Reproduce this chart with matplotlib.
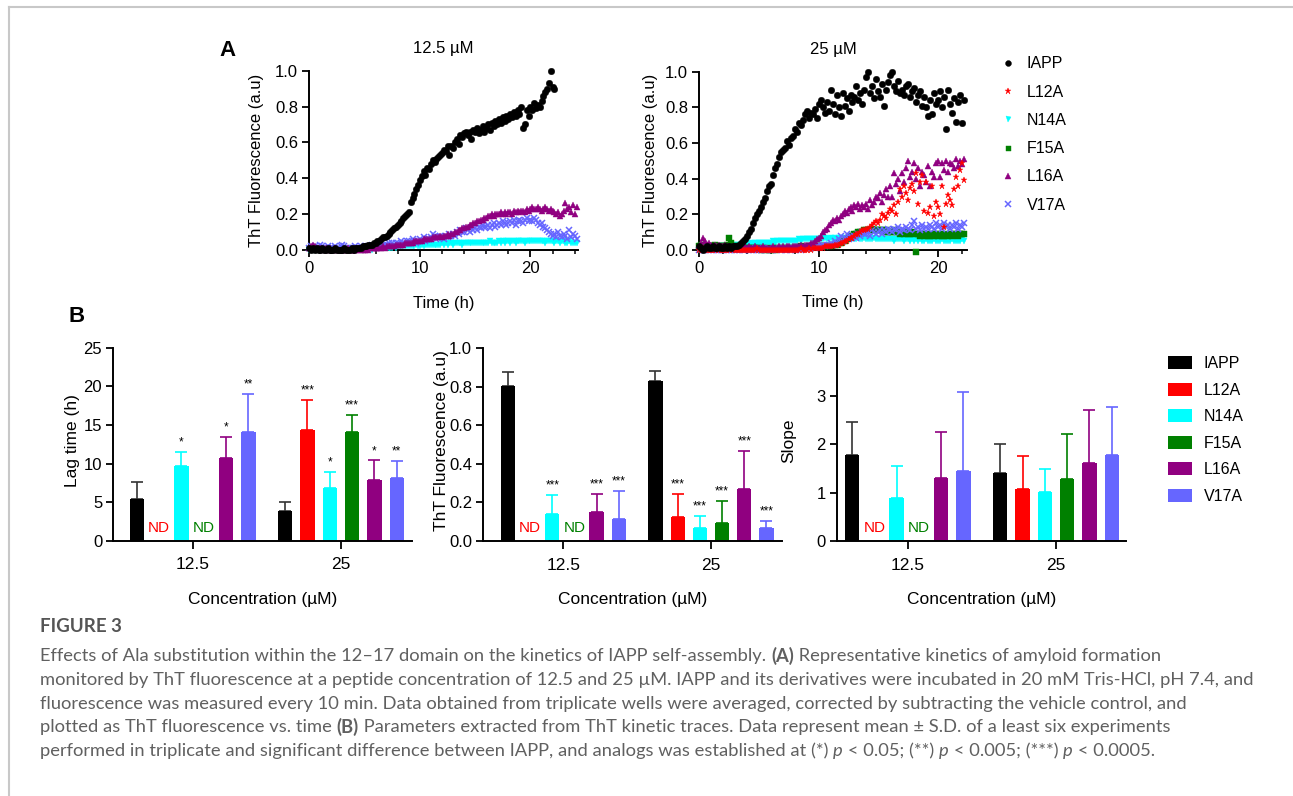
import numpy as np
import matplotlib
matplotlib.use("Agg")
import matplotlib.pyplot as plt
from matplotlib.lines import Line2D
from matplotlib.patches import Patch
import matplotlib.transforms as mtransforms

plt.rcParams["font.family"] = ["Liberation Sans", "DejaVu Sans"]

W, H = 1293, 796

# ---------------- data: kinetics (one reading every 10 min) ----------------
SAMPLE_MIN = 10
variants = ["IAPP", "L12A", "N14A", "F15A", "L16A", "V17A"]
colors = ["#000000", "#FF0000", "#00FFFF", "#008000", "#900080", "#6666FF"]
markers = ["o", "*", "v", "s", "^", "x"]
msizes = [4.7, 5.0, 4.0, 4.0, 4.2, 4.4]

iapp_125 = [
    0.01, 0.00, 0.01, 0.00, 0.01, 0.00, 0.00, 0.01, 0.00, 0.00, 0.01, 0.00,
    0.00, 0.00, 0.01, 0.00, 0.00, 0.00, 0.00, 0.01, 0.00, 0.00, 0.00, 0.01,
    0.00, 0.01, 0.01, 0.01, 0.01, 0.02, 0.02, 0.02, 0.03, 0.03, 0.03, 0.04,
    0.04, 0.05, 0.05, 0.06, 0.07, 0.07, 0.08, 0.09, 0.10, 0.11, 0.12, 0.13,
    0.14, 0.15, 0.16, 0.18, 0.19, 0.20, 0.21, 0.27, 0.29, 0.31, 0.34, 0.36,
    0.39, 0.41, 0.44, 0.42, 0.46, 0.45, 0.48, 0.50, 0.49, 0.51, 0.52, 0.53,
    0.54, 0.56, 0.55, 0.58, 0.53, 0.58, 0.57, 0.60, 0.62, 0.59, 0.64, 0.63,
    0.65, 0.66, 0.64, 0.66, 0.62, 0.67, 0.66, 0.68, 0.65, 0.67, 0.69, 0.66,
    0.68, 0.70, 0.67, 0.71, 0.69, 0.72, 0.70, 0.73, 0.71, 0.74, 0.72, 0.75,
    0.73, 0.76, 0.74, 0.77, 0.75, 0.78, 0.76, 0.80, 0.68, 0.70, 0.78, 0.75,
    0.80, 0.78, 0.82, 0.79, 0.81, 0.80, 0.83, 0.86, 0.88, 0.90, 0.93, 1.00,
    0.91, 0.90]
n14a_125 = [
    0.00, 0.00, 0.00, 0.00, 0.00, 0.00, 0.00, 0.00, 0.00, 0.00, 0.00, 0.00,
    0.00, 0.00, 0.00, 0.00, 0.00, 0.00, 0.00, 0.00, 0.00, 0.00, 0.00, 0.00,
    0.00, 0.00, 0.00, 0.00, 0.00, 0.00, 0.00, 0.00, 0.00, 0.01, 0.00, 0.01,
    0.01, 0.01, 0.01, 0.01, 0.01, 0.01, 0.01, 0.01, 0.01, 0.01, 0.02, 0.01,
    0.02, 0.02, 0.02, 0.02, 0.02, 0.02, 0.02, 0.02, 0.02, 0.02, 0.03, 0.02,
    0.02, 0.03, 0.02, 0.03, 0.03, 0.03, 0.03, 0.03, 0.03, 0.03, 0.03, 0.03,
    0.04, 0.03, 0.04, 0.03, 0.04, 0.04, 0.03, 0.04, 0.04, 0.04, 0.04, 0.03,
    0.04, 0.04, 0.04, 0.04, 0.04, 0.04, 0.04, 0.04, 0.04, 0.04, 0.04, 0.04,
    0.04, 0.04, 0.05, 0.04, 0.04, 0.04, 0.04, 0.05, 0.04, 0.05, 0.04, 0.05,
    0.05, 0.04, 0.05, 0.05, 0.04, 0.05, 0.05, 0.05, 0.05, 0.04, 0.05, 0.05,
    0.05, 0.05, 0.05, 0.05, 0.05, 0.05, 0.05, 0.05, 0.04, 0.05, 0.05, 0.05,
    0.05, 0.04, 0.05, 0.05, 0.04, 0.05, 0.05, 0.04, 0.04, 0.05, 0.04, 0.04,
    0.04, 0.04]
l16a_125 = [
    0.01, 0.02, 0.03, 0.02, 0.01, 0.01, 0.01, 0.01, 0.00, 0.01, 0.00, 0.01,
    0.00, 0.00, 0.01, 0.00, 0.00, 0.00, 0.00, 0.00, 0.00, 0.01, 0.00, 0.00,
    0.00, 0.00, 0.00, 0.01, 0.00, 0.00, 0.00, 0.01, 0.00, 0.01, 0.01, 0.01,
    0.01, 0.01, 0.01, 0.01, 0.02, 0.01, 0.02, 0.02, 0.02, 0.02, 0.02, 0.03,
    0.03, 0.03, 0.03, 0.03, 0.04, 0.04, 0.04, 0.04, 0.04, 0.05, 0.05, 0.05,
    0.05, 0.05, 0.06, 0.06, 0.06, 0.06, 0.06, 0.07, 0.07, 0.07, 0.07, 0.08,
    0.07, 0.08, 0.08, 0.09, 0.08, 0.09, 0.09, 0.10, 0.10, 0.11, 0.11, 0.12,
    0.12, 0.13, 0.13, 0.14, 0.14, 0.15, 0.15, 0.16, 0.16, 0.17, 0.17, 0.18,
    0.18, 0.19, 0.19, 0.20, 0.19, 0.20, 0.20, 0.20, 0.21, 0.20, 0.21, 0.20,
    0.21, 0.21, 0.20, 0.22, 0.21, 0.22, 0.21, 0.22, 0.22, 0.21, 0.23, 0.22,
    0.23, 0.24, 0.23, 0.23, 0.24, 0.23, 0.22, 0.23, 0.24, 0.23, 0.22, 0.23,
    0.22, 0.21, 0.20, 0.21, 0.19, 0.20, 0.22, 0.26, 0.23, 0.24, 0.21, 0.25,
    0.20, 0.24]
v17a_125 = [
    0.01, 0.02, 0.01, 0.02, 0.01, 0.01, 0.03, 0.02, 0.01, 0.01, 0.02, 0.01,
    0.01, 0.01, 0.02, 0.01, 0.01, 0.02, 0.03, 0.02, 0.01, 0.01, 0.01, 0.01,
    0.01, 0.02, 0.01, 0.01, 0.02, 0.01, 0.02, 0.01, 0.02, 0.02, 0.03, 0.02,
    0.03, 0.02, 0.03, 0.02, 0.03, 0.03, 0.03, 0.04, 0.03, 0.04, 0.03, 0.04,
    0.04, 0.03, 0.05, 0.04, 0.04, 0.05, 0.05, 0.04, 0.06, 0.05, 0.04, 0.05,
    0.06, 0.05, 0.07, 0.05, 0.06, 0.06, 0.07, 0.09, 0.08, 0.06, 0.07, 0.08,
    0.07, 0.06, 0.08, 0.07, 0.09, 0.08, 0.09, 0.08, 0.10, 0.09, 0.11, 0.10,
    0.10, 0.12, 0.11, 0.10, 0.12, 0.11, 0.12, 0.11, 0.13, 0.12, 0.14, 0.13,
    0.13, 0.14, 0.12, 0.14, 0.15, 0.13, 0.14, 0.15, 0.14, 0.16, 0.15, 0.14,
    0.15, 0.16, 0.15, 0.17, 0.14, 0.16, 0.17, 0.16, 0.15, 0.17, 0.18, 0.16,
    0.17, 0.16, 0.18, 0.17, 0.15, 0.14, 0.15, 0.13, 0.12, 0.11, 0.10, 0.09,
    0.08, 0.09, 0.07, 0.10, 0.08, 0.07, 0.09, 0.08, 0.06, 0.11, 0.07, 0.09,
    0.08, 0.06]

iapp_25 = [
    0.02, 0.01, 0.00, 0.01, 0.02, 0.01, 0.01, 0.02, 0.01, 0.01, 0.02, 0.01,
    0.01, 0.02, 0.01, 0.02, 0.01, 0.02, 0.02, 0.02, 0.03, 0.04, 0.05, 0.06,
    0.08, 0.10, 0.12, 0.15, 0.18, 0.20, 0.22, 0.24, 0.27, 0.29, 0.33, 0.36,
    0.37, 0.42, 0.46, 0.48, 0.52, 0.55, 0.56, 0.57, 0.61, 0.59, 0.63, 0.64,
    0.68, 0.66, 0.71, 0.70, 0.73, 0.76, 0.78, 0.74, 0.77, 0.76, 0.79, 0.74,
    0.82, 0.84, 0.80, 0.77, 0.83, 0.78, 0.90, 0.82, 0.76, 0.87, 0.80, 0.75,
    0.88, 0.81, 0.85, 0.78, 0.87, 0.83, 0.86, 0.92, 0.84, 0.88, 0.82, 0.90,
    0.97, 1.00, 0.88, 0.92, 0.85, 0.96, 0.89, 0.86, 0.93, 0.81, 0.90, 0.94,
    0.98, 1.00, 0.92, 0.89, 0.95, 0.88, 0.90, 0.87, 0.92, 0.93, 0.86, 0.89,
    0.91, 0.83, 0.87, 0.89, 0.81, 0.86, 0.80, 0.75, 0.84, 0.76, 0.88, 0.82,
    0.84, 0.89, 0.80, 0.86, 0.68, 0.90, 0.82, 0.77, 0.85, 0.72, 0.83, 0.87,
    0.71, 0.84]
l12a_25 = [
    0.00, 0.00, 0.01, 0.00, 0.00, 0.00, 0.00, 0.00, 0.00, 0.01, 0.00, 0.00,
    0.00, 0.00, 0.00, 0.00, 0.01, 0.00, 0.00, 0.00, 0.00, 0.00, 0.00, 0.00,
    0.00, 0.00, 0.00, 0.00, 0.00, 0.01, 0.00, 0.00, 0.00, 0.00, 0.00, 0.00,
    0.00, 0.00, 0.00, 0.00, 0.00, 0.00, 0.00, 0.00, 0.00, 0.00, 0.00, 0.00,
    0.00, 0.00, 0.00, 0.01, 0.00, 0.00, 0.00, 0.01, 0.00, 0.01, 0.01, 0.01,
    0.01, 0.01, 0.01, 0.02, 0.02, 0.02, 0.02, 0.02, 0.03, 0.03, 0.03, 0.04,
    0.04, 0.05, 0.05, 0.06, 0.07, 0.07, 0.08, 0.09, 0.09, 0.10, 0.11, 0.11,
    0.12, 0.12, 0.13, 0.14, 0.15, 0.16, 0.15, 0.17, 0.20, 0.19, 0.18, 0.21,
    0.23, 0.22, 0.25, 0.20, 0.27, 0.34, 0.30, 0.36, 0.32, 0.28, 0.35, 0.37,
    0.33, 0.43, 0.26, 0.38, 0.42, 0.22, 0.38, 0.21, 0.24, 0.36, 0.19, 0.27,
    0.24, 0.20, 0.36, 0.13, 0.26, 0.31, 0.28, 0.25, 0.34, 0.41, 0.36, 0.45,
    0.49, 0.39]
n14a_25 = [
    0.00, 0.01, 0.00, 0.01, 0.01, 0.01, 0.01, 0.01, 0.01, 0.01, 0.02, 0.01,
    0.02, 0.02, 0.02, 0.02, 0.02, 0.03, 0.02, 0.03, 0.03, 0.03, 0.03, 0.03,
    0.03, 0.03, 0.04, 0.03, 0.04, 0.04, 0.04, 0.04, 0.04, 0.04, 0.04, 0.04,
    0.04, 0.05, 0.04, 0.05, 0.05, 0.05, 0.05, 0.05, 0.05, 0.05, 0.05, 0.05,
    0.05, 0.05, 0.06, 0.05, 0.06, 0.06, 0.06, 0.06, 0.06, 0.06, 0.06, 0.06,
    0.06, 0.06, 0.06, 0.07, 0.06, 0.06, 0.07, 0.06, 0.07, 0.06, 0.07, 0.07,
    0.06, 0.07, 0.06, 0.07, 0.06, 0.07, 0.06, 0.06, 0.07, 0.06, 0.06, 0.07,
    0.06, 0.06, 0.06, 0.06, 0.07, 0.06, 0.06, 0.06, 0.06, 0.06, 0.06, 0.06,
    0.06, 0.06, 0.05, 0.06, 0.06, 0.06, 0.06, 0.05, 0.06, 0.06, 0.05, 0.06,
    0.05, 0.06, 0.05, 0.06, 0.05, 0.05, 0.06, 0.05, 0.05, 0.05, 0.06, 0.05,
    0.05, 0.05, 0.06, 0.05, 0.05, 0.05, 0.05, 0.06, 0.05, 0.05, 0.05, 0.05,
    0.06, 0.05]
f15a_25 = [
    0.02, 0.03, 0.02, 0.03, 0.02, 0.02, 0.02, 0.02, 0.03, 0.02, 0.02, 0.02,
    0.02, 0.02, 0.03, 0.07, 0.04, 0.02, 0.02, 0.01, 0.02, 0.01, 0.01, 0.01,
    0.01, 0.01, 0.01, 0.01, 0.01, 0.01, 0.01, 0.00, 0.01, 0.00, 0.01, 0.00,
    0.00, 0.01, 0.00, 0.01, 0.01, 0.01, 0.01, 0.01, 0.01, 0.01, 0.01, 0.01,
    0.01, 0.01, 0.01, 0.02, 0.01, 0.01, 0.01, 0.02, 0.01, 0.02, 0.02, 0.02,
    0.02, 0.02, 0.02, 0.02, 0.02, 0.02, 0.02, 0.03, 0.03, 0.03, 0.04, 0.04,
    0.05, 0.05, 0.06, 0.07, 0.08, 0.08, 0.09, 0.09, 0.10, 0.10, 0.10, 0.11,
    0.11, 0.11, 0.11, 0.12, 0.11, 0.11, 0.11, 0.11, 0.11, 0.10, 0.11, 0.10,
    0.10, 0.10, 0.11, 0.10, 0.10, 0.09, 0.10, 0.09, 0.10, 0.09, 0.09, 0.10,
    0.09, -0.01, 0.09, 0.08, 0.09, 0.08, 0.09, 0.08, 0.08, 0.09, 0.08, 0.09,
    0.08, 0.09, 0.08, 0.08, 0.09, 0.08, 0.09, 0.08, 0.09, 0.09, 0.08, 0.09,
    0.09, 0.09]
l16a_25 = [
    0.02, 0.04, 0.07, 0.05, 0.03, 0.04, 0.03, 0.02, 0.03, 0.02, 0.03, 0.02,
    0.02, 0.03, 0.02, 0.02, 0.01, 0.02, 0.02, 0.01, 0.02, 0.01, 0.01, 0.02,
    0.01, 0.02, 0.01, 0.01, 0.02, 0.01, 0.01, 0.01, 0.02, 0.01, 0.01, 0.01,
    0.01, 0.02, 0.01, 0.01, 0.02, 0.01, 0.02, 0.01, 0.02, 0.02, 0.01, 0.02,
    0.02, 0.02, 0.02, 0.03, 0.02, 0.03, 0.03, 0.03, 0.04, 0.04, 0.05, 0.06,
    0.07, 0.08, 0.10, 0.11, 0.12, 0.14, 0.15, 0.17, 0.16, 0.18, 0.17, 0.19,
    0.20, 0.22, 0.21, 0.23, 0.24, 0.22, 0.25, 0.24, 0.26, 0.23, 0.25, 0.24,
    0.26, 0.23, 0.28, 0.25, 0.27, 0.30, 0.29, 0.32, 0.27, 0.31, 0.34, 0.30,
    0.36, 0.30, 0.43, 0.37, 0.40, 0.33, 0.43, 0.38, 0.46, 0.50, 0.41, 0.44,
    0.49, 0.40, 0.46, 0.36, 0.44, 0.42, 0.38, 0.47, 0.36, 0.44, 0.41, 0.49,
    0.50, 0.41, 0.49, 0.45, 0.50, 0.44, 0.49, 0.48, 0.46, 0.51, 0.47, 0.50,
    0.48, 0.51]
v17a_25 = [
    0.00, 0.01, 0.00, 0.00, 0.01, 0.00, 0.00, 0.00, 0.01, 0.00, 0.00, 0.00,
    0.00, 0.01, 0.00, 0.00, 0.00, 0.01, 0.00, 0.00, 0.00, 0.01, 0.00, 0.00,
    0.01, 0.00, 0.00, 0.00, 0.01, 0.00, 0.00, 0.00, 0.01, 0.00, 0.00, 0.01,
    0.00, 0.00, 0.01, 0.00, 0.01, 0.00, 0.01, 0.00, 0.00, 0.01, 0.00, 0.01,
    0.00, 0.01, 0.01, 0.00, 0.01, 0.01, 0.01, 0.01, 0.01, 0.02, 0.01, 0.02,
    0.02, 0.02, 0.03, 0.02, 0.03, 0.03, 0.04, 0.03, 0.05, 0.04, 0.06, 0.08,
    0.05, 0.07, 0.09, 0.06, 0.08, 0.07, 0.08, 0.07, 0.09, 0.08, 0.10, 0.09,
    0.09, 0.10, 0.08, 0.11, 0.10, 0.09, 0.10, 0.11, 0.09, 0.11, 0.10, 0.12,
    0.11, 0.10, 0.12, 0.11, 0.13, 0.10, 0.12, 0.11, 0.13, 0.12, 0.11, 0.14,
    0.16, 0.12, 0.13, 0.11, 0.14, 0.12, 0.13, 0.12, 0.14, 0.13, 0.12, 0.15,
    0.13, 0.14, 0.12, 0.15, 0.13, 0.14, 0.12, 0.14, 0.13, 0.15, 0.12, 0.14,
    0.13, 0.15]

# ---------------- data: kinetic parameters (mean, S.D.) ----------------
conc_labels = ["12.5", "25"]
ND = np.nan
lag_125 = [5.35, ND, 9.63, ND, 10.7, 14.1]
lag_125_sd = [2.25, 0, 1.81, 0, 2.7, 4.9]
lag_25 = [3.8, 14.3, 6.78, 14.08, 7.9, 8.16]
lag_25_sd = [1.17, 3.9, 2.16, 2.22, 2.5, 2.14]
lag_stars_125 = ["", "", "*", "", "*", "**"]
lag_stars_25 = ["", "***", "*", "***", "*", "**"]

tht_125 = [0.805, ND, 0.138, ND, 0.149, 0.112]
tht_125_sd = [0.074, 0, 0.101, 0, 0.095, 0.148]
tht_25 = [0.829, 0.126, 0.067, 0.092, 0.27, 0.067]
tht_25_sd = [0.053, 0.116, 0.063, 0.116, 0.195, 0.035]
tht_stars_125 = ["", "", "***", "", "***", "***"]
tht_stars_25 = ["", "***", "***", "***", "***", "***"]

slope_125 = [1.77, ND, 0.90, ND, 1.30, 1.45]
slope_125_sd = [0.69, 0, 0.66, 0, 0.96, 1.63]
slope_25 = [1.41, 1.07, 1.01, 1.28, 1.61, 1.77]
slope_25_sd = [0.59, 0.68, 0.48, 0.94, 1.11, 1.01]


def px_axes(l, t, r, b):
    return [l / W, 1 - b / H, (r - l) / W, (b - t) / H]


def style_axes(ax):
    for s in ["top", "right"]:
        ax.spines[s].set_visible(False)
    for s in ["left", "bottom"]:
        ax.spines[s].set_linewidth(1.4)
    ax.tick_params(axis="both", which="major", direction="out", length=5,
                   width=1.3, labelsize=12, pad=3)


fig = plt.figure(figsize=(W / 100, H / 100), dpi=100)

# frame lines of the figure page
fig.add_artist(Line2D([9 / W, 9 / W], [0, 1 - 7 / H], color="#c8c8c8", lw=1.5))
fig.add_artist(Line2D([9 / W, 1], [1 - 7 / H, 1 - 7 / H], color="#c8c8c8", lw=1.5))

# ---------------- panel A ----------------
kin_125 = [iapp_125, None, n14a_125, None, l16a_125, v17a_125]
kin_25 = [iapp_25, l12a_25, n14a_25, f15a_25, l16a_25, v17a_25]
draw_order = [2, 3, 5, 4, 1, 0]

axA1 = fig.add_axes(px_axes(309.3, 70.7, 578, 250))
axA2 = fig.add_axes(px_axes(699.3, 71.7, 966.7, 250))
handles = {}
for ax, series, xmax, title in [(axA1, kin_125, 24.3, "12.5 µM"),
                                (axA2, kin_25, 22.4, "25 µM")]:
    for i in draw_order:
        vals = series[i]
        if vals is None:
            continue
        t = np.arange(len(vals)) * SAMPLE_MIN / 60.0
        ln, = ax.plot(t, vals, linestyle="none", marker=markers[i],
                      color=colors[i], markersize=msizes[i],
                      markeredgewidth=1.1 if markers[i] == "x" else 0.3,
                      clip_on=False, label=variants[i], zorder=3)
        handles[i] = ln
    style_axes(ax)
    ax.set_xlim(0, xmax)
    ax.set_ylim(0, 1.0)
    ax.set_xticks([0, 10, 20])
    ax.set_xticks(np.arange(0, xmax, 2), minor=True)
    ax.tick_params(axis="x", which="minor", length=3, width=1.1)
    ax.set_yticks(np.arange(0, 1.01, 0.2))
    ax.yaxis.set_major_formatter(plt.FormatStrFormatter("%.1f"))
    ax.set_xlabel("Time (h)", fontsize=12)
    ax.xaxis.set_label_coords(0.5, -0.255)
    ax.set_ylabel("ThT Fluorescence (a.u)", fontsize=12)
    ax.set_title(title, fontsize=12, pad=13)
axA1.yaxis.set_label_coords(-0.17, 0.5)
axA2.yaxis.set_label_coords(-0.155, 0.5)

fig.legend([handles[i] for i in range(6)], variants, loc="upper left",
           bbox_to_anchor=(986 / W, 1 - 42 / H), frameon=False,
           fontsize=11.5, handlelength=1.0, handletextpad=0.65,
           labelspacing=0.83, borderpad=0.4, markerscale=0.9)

fig.text(228 / W, 1 - 50 / H, "A", fontsize=16, fontweight="bold",
         ha="center", va="center")

# ---------------- panel B ----------------
bar_w = 0.097
step = 0.1504
offsets = (np.arange(6) - 2.5) * step


def bar_panel(rect, xlim, v125, s125, v25, s25, stars125, stars25,
              ylim, yticks, ylabel, fmt, ylab_x):
    ax = fig.add_axes(rect)
    for g, (vals, sds, stars) in enumerate([(v125, s125, stars125),
                                            (v25, s25, stars25)]):
        for i in range(6):
            x = g + offsets[i]
            if np.isnan(vals[i]):
                tr = mtransforms.blended_transform_factory(ax.transData,
                                                           ax.transAxes)
                ax.text(x, 0.066, "ND", color=colors[i], fontsize=11,
                        ha="center", va="center", transform=tr)
                continue
            ecol = "#333333" if i == 0 else colors[i]
            ax.errorbar(x, vals[i], yerr=[[0], [sds[i]]], color=ecol,
                        capsize=4.5, elinewidth=1.2, capthick=1.2, zorder=1)
            ax.bar(x, vals[i], width=bar_w, color=colors[i], zorder=2)
            if stars and stars[i]:
                ax.annotate(stars[i], (x, vals[i] + sds[i]),
                            xytext=(0, 2.5), textcoords="offset points",
                            ha="center", va="bottom", fontsize=8.5)
    style_axes(ax)
    ax.set_xlim(*xlim)
    ax.set_ylim(*ylim)
    ax.set_xticks([0, 1])
    ax.set_xticklabels(conc_labels, fontsize=12.5)
    ax.tick_params(axis="x", length=6, pad=6)
    ax.set_yticks(yticks)
    ax.yaxis.set_major_formatter(plt.FormatStrFormatter(fmt))
    ax.set_xlabel("Concentration (µM)", fontsize=12.5)
    ax.xaxis.set_label_coords(0.5, -0.265)
    ax.set_ylabel(ylabel, fontsize=12.5)
    ax.yaxis.set_label_coords(ylab_x, 0.52)
    return ax


bar_panel(px_axes(113.3, 347.7, 411.7, 540.7), (-0.535, 1.477),
          lag_125, lag_125_sd, lag_25, lag_25_sd, lag_stars_125, lag_stars_25,
          (0, 25), [0, 5, 10, 15, 20, 25], "Lag time (h)", "%d", -0.11)
bar_panel(px_axes(483.3, 348.3, 781.7, 541), (-0.542, 1.479),
          tht_125, tht_125_sd, tht_25, tht_25_sd, tht_stars_125, tht_stars_25,
          (0, 1.0), np.arange(0, 1.01, 0.2), "ThT Fluorescence (a.u)", "%.1f",
          -0.115)
bar_panel(px_axes(836.7, 347.7, 1125.7, 541), (-0.479, 1.47),
          slope_125, slope_125_sd, slope_25, slope_25_sd, None, None,
          (0, 4), [0, 1, 2, 3, 4], "Slope", "%d", -0.14)

fig.legend([Patch(facecolor=c) for c in colors], variants, loc="upper left",
           bbox_to_anchor=(1154 / W, 1 - 342 / H), frameon=False,
           fontsize=11.5, handlelength=1.5, handleheight=0.85,
           handletextpad=0.72, labelspacing=0.72, borderpad=0.4)

fig.text(77 / W, 1 - 316 / H, "B", fontsize=16, fontweight="bold",
         ha="center", va="center")

# ---------------- caption ----------------
cap_color = "#606060"
cap_font = "Lato"
cap_size = 13.2
renderer = fig.canvas.get_renderer()


def rich_line(y_px, parts):
    x = 40 / W
    for txt, kw in parts:
        t = fig.text(x, 1 - y_px / H, txt, color=cap_color, fontsize=cap_size,
                     family=cap_font, va="center", ha="left", **kw)
        x += t.get_window_extent(renderer).width / W


N = {}
B = {"fontweight": "bold"}
I = {"style": "italic"}

fig.text(40 / W, 1 - 627 / H, "FIGURE 3", color="#555555", fontsize=13.5,
         family=cap_font, fontweight="bold", va="center")
rich_line(656, [("Effects of Ala substitution within the 12–17 domain on the "
                 "kinetics of IAPP self-assembly. ", N), ("(A)", B),
                (" Representative kinetics of amyloid formation", N)])
rich_line(680, [("monitored by ThT fluorescence at a peptide concentration of "
                 "12.5 and 25 µM. IAPP and its derivatives were incubated in "
                 "20 mM Tris-HCl, pH 7.4, and", N)])
rich_line(704, [("fluorescence was measured every 10 min. Data obtained from "
                 "triplicate wells were averaged, corrected by subtracting the "
                 "vehicle control, and", N)])
rich_line(727, [("plotted as ThT fluorescence vs. time ", N), ("(B)", B),
                (" Parameters extracted from ThT kinetic traces. Data represent "
                 "mean ± S.D. of a least six experiments", N)])
rich_line(751, [("performed in triplicate and significant difference between "
                 "IAPP, and analogs was established at (*) ", N), ("p", I),
                (" < 0.05; (**) ", N), ("p", I), (" < 0.005; (***) ", N),
                ("p", I), (" < 0.0005.", N)])

fig.savefig("out.png", dpi=100)
